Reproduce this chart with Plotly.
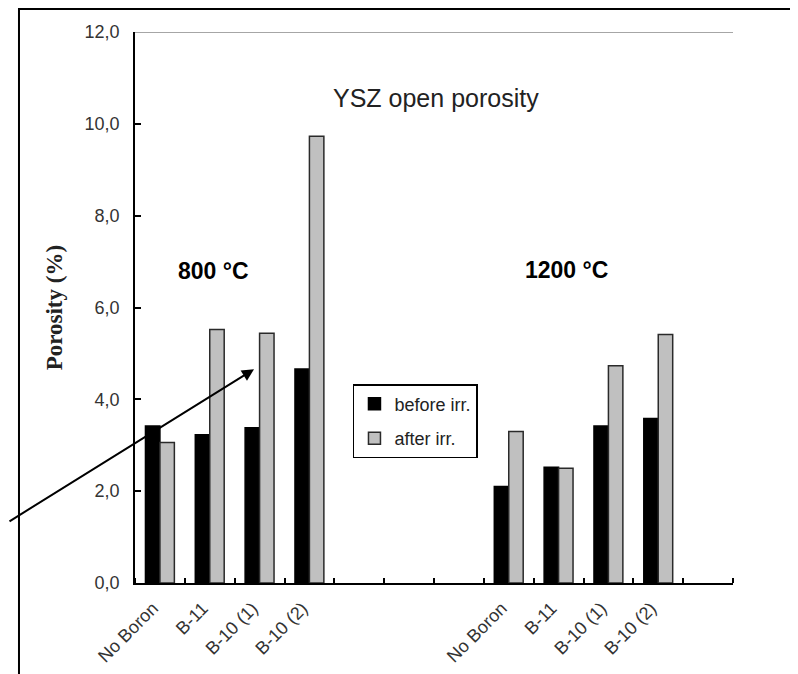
import plotly.graph_objects as go

# ---- data ----
samples = ["No Boron", "B-11", "B-10 (1)", "B-10 (2)"]
before_800 = [3.42, 3.23, 3.38, 4.66]
after_800 = [3.06, 5.52, 5.44, 9.73]
before_1200 = [2.10, 2.52, 3.42, 3.58]
after_1200 = [3.30, 2.50, 4.73, 5.41]
y_tickvals = [0, 2, 4, 6, 8, 10, 12]
y_ticktext = ["0,0", "2,0", "4,0", "6,0", "8,0", "10,0", "12,0"]

# slot layout: 4 samples, 3 empty slots, 4 samples, 1 empty slot
start_800 = 0
start_1200 = len(samples) + 3
n_slots = start_1200 + len(samples) + 1
x_800 = [start_800 + i for i in range(len(samples))]
x_1200 = [start_1200 + i for i in range(len(samples))]
x_all = x_800 + x_1200

FONT = "Liberation Sans, Arial, sans-serif"

fig = go.Figure()
fig.add_trace(go.Bar(
    x=x_all, y=before_800 + before_1200, name="before irr.",
    marker=dict(color="black", line=dict(color="black", width=1.5)),
    legendgroup="a",
))
fig.add_trace(go.Bar(
    x=x_all, y=after_800 + after_1200, name="after irr.",
    marker=dict(color="#c0c0c0", line=dict(color="#2a2a2a", width=1.5)),
    legendgroup="b",
))

fig.update_layout(
    width=790, height=666,
    margin=dict(l=127, r=65, t=24, b=91, autoexpand=False),
    paper_bgcolor="white", plot_bgcolor="white",
    barmode="group", bargap=0.42, bargroupgap=0,
    font=dict(family=FONT, color="#222"),
    showlegend=True,
    legend=dict(
        x=0.3645, y=0.361, xanchor="left", yanchor="top",
        bgcolor="white", bordercolor="black", borderwidth=1.5,
        font=dict(size=18, family=FONT, color="#222"),
        tracegroupgap=8, itemwidth=30,
    ),
    xaxis=dict(
        range=[-0.5, n_slots - 0.5], automargin=False,
        tickmode="array", tickvals=x_all, ticktext=samples + samples,
        tickangle=-45, ticks="",
        ticklabelshift=-7, ticklabelstandoff=6,
        tickfont=dict(size=18, family=FONT, color="#333"),
        showline=True, linecolor="black", linewidth=1.5,
        showgrid=False, zeroline=False,
        minor=dict(ticks="inside", tick0=-0.5, dtick=1, ticklen=5,
                   tickwidth=1.5, tickcolor="black", showgrid=False),
    ),
    yaxis=dict(
        range=[0, 12], automargin=False,
        tickmode="array", tickvals=y_tickvals, ticktext=y_ticktext,
        ticks="inside", ticklen=6, tickwidth=1.5, tickcolor="black",
        ticklabelstandoff=10,
        tickfont=dict(size=18, family=FONT, color="#333"),
        showline=True, linecolor="black", linewidth=1.5,
        showgrid=False, zeroline=False,
    ),
)

# gray line at top of y range
fig.add_shape(type="line", xref="paper", yref="y", x0=0, x1=1, y0=12, y1=12,
              line=dict(color="#888888", width=1.5))
# outer frame
fig.add_shape(type="rect", xref="paper", yref="paper",
              x0=-0.194, x1=1.107, y0=-0.2, y1=1.0417,
              line=dict(color="black", width=2))

fig.add_annotation(text="<b>Porosity (%)</b>", xref="paper", yref="paper",
                   x=-0.134, y=0.5, textangle=-90, showarrow=False,
                   font=dict(family="Liberation Serif, Times New Roman, serif",
                             size=23, color="#222"),
                   xanchor="center", yanchor="middle")
fig.add_annotation(text="YSZ open porosity", xref="paper", yref="paper",
                   x=0.503, y=0.881, showarrow=False,
                   xanchor="center", yanchor="middle",
                   font=dict(family=FONT, size=25, color="#222"))
fig.add_annotation(text="<b>800 °C</b>", xref="paper", yref="paper",
                   x=0.132, y=0.566, showarrow=False,
                   xanchor="center", yanchor="middle",
                   font=dict(family=FONT, size=23, color="black"))
fig.add_annotation(text="<b>1200 °C</b>", xref="paper", yref="paper",
                   x=0.721, y=0.568, showarrow=False,
                   xanchor="center", yanchor="middle",
                   font=dict(family=FONT, size=23, color="black"))
# arrow
fig.add_annotation(text="", xref="paper", yref="paper", x=0.199, y=0.388,
                   ax=-246, ay=153, showarrow=True, arrowhead=2,
                   arrowsize=1.2, arrowwidth=2, arrowcolor="black")

fig.write_html("out.html")
